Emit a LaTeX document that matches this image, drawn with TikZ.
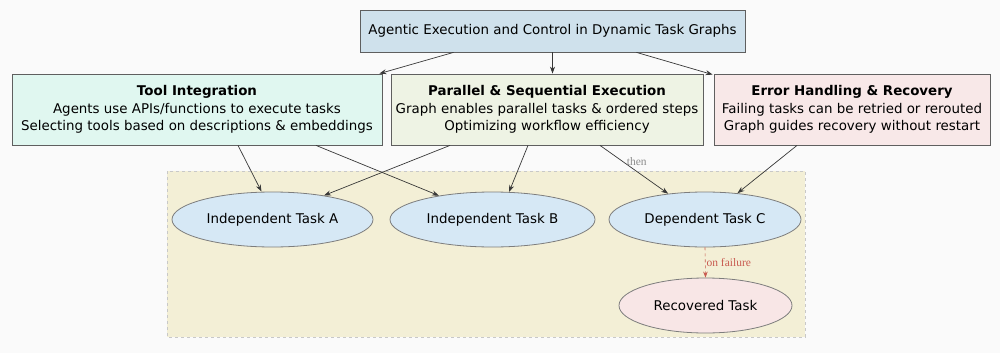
\documentclass[tikz,border=0pt]{standalone}
\usepackage{fontspec}
\setmainfont{DejaVu Sans}
\newfontfamily\lblfont{Liberation Serif}
\usetikzlibrary{shapes.geometric,arrows.meta,calc}
\definecolor{bgc}{RGB}{250,250,250}
\definecolor{titlefill}{RGB}{207,225,236}
\definecolor{toolfill}{RGB}{224,247,240}
\definecolor{parfill}{RGB}{238,243,228}
\definecolor{errfill}{RGB}{248,232,232}
\definecolor{clusterfill}{RGB}{243,239,214}
\definecolor{clusterline}{RGB}{200,200,200}
\definecolor{taskfill}{RGB}{214,232,245}
\definecolor{recfill}{RGB}{248,230,230}
\definecolor{boxline}{RGB}{95,95,95}
\definecolor{ellline}{RGB}{125,125,125}
\definecolor{edgec}{RGB}{55,55,55}
\definecolor{failc}{RGB}{200,90,80}
\definecolor{thenc}{RGB}{140,140,140}
\tikzset{
  txt/.style={font=\fontsize{13.4}{17.5}\selectfont},
  box/.style={draw=boxline, line width=0.8pt, rectangle, inner sep=0pt, align=center, txt},
  task/.style={draw=ellline, line width=0.8pt, ellipse, inner sep=0pt, minimum height=55, txt, fill=taskfill},
  edge/.style={draw=edgec, line width=0.7pt, -{Stealth[length=7pt,width=5pt]}},
  lbl/.style={font=\lblfont\fontsize{11.5}{13}\selectfont, inner sep=0pt}
}
\begin{document}
\begin{tikzpicture}[x=1pt,y=-1pt]
\useasboundingbox (0,0) rectangle (1000,353);
\fill[bgc] (0,0) rectangle (1000,353);
% cluster
\filldraw[fill=clusterfill, draw=clusterline, dashed, line width=0.6pt] (167,171) rectangle (805,337);
% top nodes
\node[box, fill=titlefill, minimum width=385, minimum height=42] (title) at (552.5,31)
  {Agentic Execution and Control in Dynamic Task Graphs};
\node[box, fill=toolfill, minimum width=370, minimum height=71] (tool) at (197,109.5)
  {\textbf{Tool Integration}\\Agents use APIs/functions to execute tasks\\Selecting tools based on descriptions \& embeddings};
\node[box, fill=parfill, minimum width=312, minimum height=71] (par) at (547,109.5)
  {\textbf{Parallel \& Sequential Execution}\\Graph enables parallel tasks \& ordered steps\\Optimizing workflow efficiency};
\node[box, fill=errfill, minimum width=276, minimum height=71] (err) at (852,109.5)
  {\textbf{Error Handling \& Recovery}\\Failing tasks can be retried or rerouted\\Graph guides recovery without restart};
% tasks
\node[task, minimum width=201] (A) at (272.5,219.5) {Independent Task A};
\node[task, minimum width=205] (B) at (492.5,219.5) {Independent Task B};
\node[task, minimum width=192] (C) at (705,219.5) {Dependent Task C};
\node[task, fill=recfill, minimum width=173] (R) at (705.5,305.5) {Recovered Task};
% edges from title
\draw[edge] ($(title.south)+(-99,0)$) -- ($(tool.north east)+(-3,0)$);
\draw[edge] (title.south) -- (title.south |- par.north);
\draw[edge] ($(title.south)+(84,0)$) -- ($(err.north west)+(-1,1)$);
% edges to tasks
\draw[edge] ($(tool.south)+(41,0)$) -- ($(A.north)+(-11,0)$);
\draw[edge] ($(tool.south)+(119,0)$) -- (B.156);
\draw[edge] ($(par.south)+(-97,0)$) -- (A.25);
\draw[edge] ($(par.south)+(-19,0)$) -- (B.59);
\draw[edge] ($(par.south)+(53,0)$) -- node[lbl, text=thenc, pos=0.33, right=4pt] (thenlbl) {then} (C.145);
\draw[edge] ($(err.south)+(-55,0)$) -- (C.39);
% failure edge
\draw[draw=failc, dashed, line width=0.6pt, -{Stealth[length=6pt,width=4.5pt]}] (C.south) -- node[lbl, text=failc, right=1pt] (faillbl) {on failure} (R.north);
\end{tikzpicture}
\end{document}
